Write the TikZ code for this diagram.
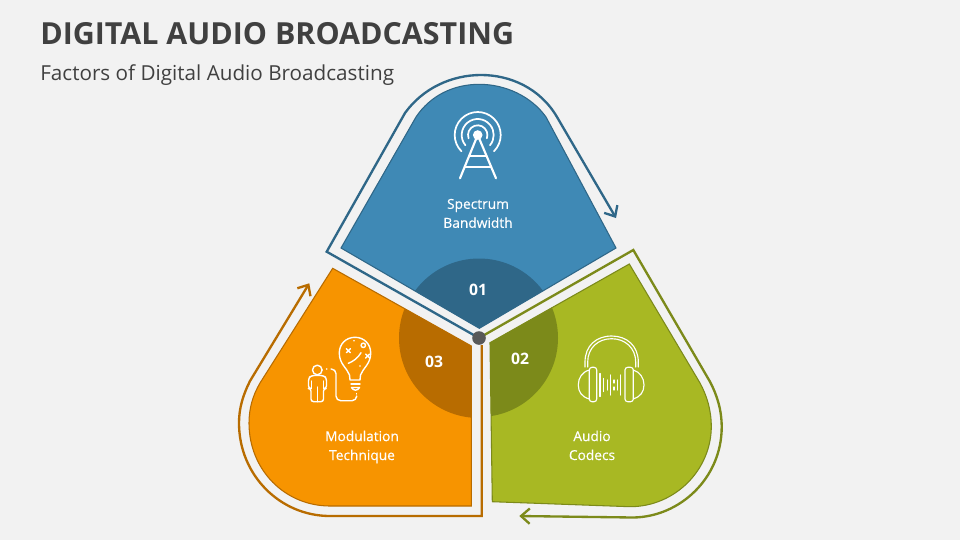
\documentclass[tikz,border=0pt]{standalone}
\usepackage{fontspec}
\setmainfont{Open Sans}
\newfontfamily\labfont[FakeBold=0.35]{Open Sans}
\usetikzlibrary{arrows.meta}
\definecolor{bgc}{HTML}{F2F2F2}
\definecolor{bluef}{HTML}{3F89B5}
\definecolor{blued}{HTML}{2F6788}
\definecolor{orangef}{HTML}{F79400}
\definecolor{oranged}{HTML}{B86C00}
\definecolor{greenf}{HTML}{A8B823}
\definecolor{greend}{HTML}{7C8A1A}
\definecolor{inkc}{HTML}{404040}
\definecolor{dotc}{HTML}{595959}
\tikzset{
  x=0.75pt,y=-0.75pt,
  ring/.style={line width=1.75pt,-{Straight Barb[length=6.5pt,width=11.5pt,line width=1.75pt]},line join=miter},
  edgeb/.style={draw=blued,line width=0.8pt},
  edgeo/.style={draw=oranged,line width=0.8pt},
  edgeg/.style={draw=greend,line width=0.8pt},
  lab/.style={text=white,font=\labfont\fontsize{10.3pt}{14.2pt}\selectfont,align=center,inner sep=0pt},
  num/.style={text=white,font=\fontsize{11.8pt}{14pt}\selectfont\bfseries,inner sep=0pt},
  icon/.style={draw=white,line width=1.3pt,line cap=round,line join=round},
  iconthin/.style={draw=white,line width=0.85pt,line cap=round,line join=round},
  iconmid/.style={draw=white,line width=1.05pt,line cap=round,line join=round}
}
\def\blueshape{(341,248) -- (479.3,328.3) -- (616,248) -- (546,117) .. controls (531,96) and (505,84.3) .. (479.3,84.3) .. controls (453,84.3) and (430,96) .. (416,117) -- cycle}
\def\orangeshape{(332.7,268.3) -- (471.3,346) -- (471.3,506) -- (330,506) .. controls (285,506) and (249,470) .. (249,423) .. controls (249,408) and (253,395) .. (260,383) -- cycle}
\def\greenshape{(629.3,264) -- (490,342.7) -- (492.3,501.7) -- (630,506.7) .. controls (675,506.7) and (711,470) .. (711.3,427) .. controls (711.3,410) and (707,396) .. (700,383) -- cycle}
\begin{document}
\begin{tikzpicture}
\useasboundingbox (0,0) rectangle (960,540);
\fill[bgc] (0,0) rectangle (960,540);

\node[anchor=west,inner sep=0pt,text=inkc,font=\fontsize{22.8pt}{28pt}\selectfont\bfseries] (title) at (40,34) {DIGITAL AUDIO BROADCASTING};
\node[anchor=west,inner sep=0pt,text=inkc,font=\fontsize{15.5pt}{20pt}\selectfont] (subtitle) at (40,75) {Factors of Digital Audio Broadcasting};

% filled sectors
\fill[bluef] \blueshape;
\begin{scope}\clip \blueshape; \fill[blued] (479,338) circle[radius=79.5]; \end{scope}
\draw[edgeb] \blueshape;
\fill[orangef] \orangeshape;
\begin{scope}\clip \orangeshape; \fill[oranged] (479,338) circle[radius=80]; \end{scope}
\draw[edgeo] \orangeshape;
\fill[greenf] \greenshape;
\begin{scope}\clip \greenshape; \fill[greend] (479,338) circle[radius=79]; \end{scope}
\draw[edgeg] \greenshape;

% ring arrows
\coordinate (hub) at (479,338);
\coordinate (bluetip) at (616,218);
\coordinate (orangetip) at (309.3,283.3);
\coordinate (greentip) at (519.3,516);
\draw[ring,draw=blued] (hub) -- (326.7,251.7) -- (405,113) .. controls (423,88) and (452,75) .. (481,75) .. controls (510,75) and (540,88) .. (557,117) -- (bluetip);
\draw[ring,draw=oranged] (481.7,345) -- (481.7,516) -- (330,516) .. controls (280,516) and (239,475) .. (239,423) .. controls (239,408) and (243,395) .. (250,381) -- (orangetip);
\draw[ring,draw=greend] (hub) -- (633.3,250) -- (710,381.7) .. controls (717,395) and (721.7,410) .. (721.7,427) .. controls (721.7,478) and (680,517) .. (633,517.5) -- (greentip);
\node[circle,fill=dotc,minimum size=10.2pt,inner sep=0pt] (hubdot) at (hub) {};

% labels
\node[lab] (l1) at (478,213.4) {Spectrum\\Bandwidth};
\node[lab] (l2) at (592,445.4) {Audio\\Codecs};
\node[lab] (l3) at (362,447) {Modulation\\Technique};
\node[num] (n1) at (478,290) {01};
\node[num] (n2) at (520,359) {02};
\node[num] (n3) at (434,362) {03};

% tower icon
\begin{scope}[shift={(477.7,135)},x=0.75pt,y=0.75pt]
  \fill[white] (0,0) circle[radius=4.8];
  \draw[icon] (225:23) arc[start angle=225,end angle=-45,radius=23];
  \draw[icon] (220:16) arc[start angle=220,end angle=-40,radius=16];
  \draw[icon] (200:9.7) arc[start angle=200,end angle=-20,radius=9.7];
  \draw[icon,line width=1.6pt] (-17.7,-43.3) -- (0,0) -- (18.3,-43.3);
  \draw[icon] (-8.7,-21) -- (9,-21);
  \draw[icon] (-13.2,-32.3) -- (13.6,-32.3);
\end{scope}

% headphones icon
\draw[iconthin] (585,367) -- (585,362) .. controls (585,346) and (596,336) .. (611.7,336) .. controls (627,336) and (638.3,346) .. (638.3,362) -- (638.3,367);
\draw[iconthin] (587.7,367) -- (587.7,362) .. controls (587.7,348) and (598,338.7) .. (611.7,338.7) .. controls (625,338.7) and (635.7,348) .. (635.7,362) -- (635.7,367);
\draw[iconthin,rounded corners=2pt] (589.3,367.3) rectangle (596.7,401.7);
\draw[iconthin,rounded corners=2pt] (625,367.3) rectangle (633.3,401.7);
\draw[iconthin] (589.3,370) .. controls (582,372) and (578.3,378) .. (578.3,385) .. controls (578.3,392) and (582,397) .. (589.3,399);
\draw[iconthin] (633.3,370) .. controls (640,372) and (644,378) .. (644,385) .. controls (644,392) and (640,397) .. (633.3,399);
\draw[iconthin] (600,373.5) -- (600,396.5);
\draw[iconthin] (603.3,378.5) -- (603.3,391.5);
\draw[iconthin] (607.3,380) -- (607.3,390);
\draw[iconthin] (610.7,375) -- (610.7,395);
\draw[iconthin] (614,380) -- (614,383) (614,387) -- (614,390);
\draw[iconthin] (617.3,380) -- (617.3,390);
\draw[iconthin] (620.7,375) -- (620.7,395);

% idea icon
\draw[iconmid] (350,380) -- (349.5,375) .. controls (347,368) and (339.3,364) .. (339.3,353) .. controls (339.3,344) and (346,337.3) .. (355,337.3) .. controls (364,337.3) and (370.7,344) .. (370.7,353) .. controls (370.7,364) and (363,368) .. (360.5,375) -- (360,380) -- cycle;
\draw[iconmid] (351,384) -- (360,384);
\draw[iconmid] (351.5,387.5) .. controls (353,391) and (358,391) .. (359.5,387.5) -- cycle;
\draw[iconmid] (356.7,393.5) -- (356.7,394);
\draw[iconmid] (346.3,348.7) -- (350.3,352.7) (350.3,348.7) -- (346.3,352.7);
\draw[iconmid] (365.7,354) -- (369.7,358) (369.7,354) -- (365.7,358);
\draw[iconmid] (363.3,345.3) circle[radius=2.2];
\draw[iconmid] (348.3,363.3) .. controls (353,361.5) and (358,358) .. (361,352.7);
\fill[white] (354,340.7) circle[radius=0.9] (360,366) circle[radius=0.9];
\draw[iconmid,rounded corners=3.5pt] (356.7,397) -- (356.7,400.7) -- (336,400.7) -- (336,369) -- (331,369);
\fill[white] (326.7,369) circle[radius=0.9];
\draw[iconmid] (317.3,370) circle[radius=4.8];
\draw[iconmid,rounded corners=2pt] (311.5,375.5) -- (323.5,375.5) -- (326.5,378) -- (326.5,388.5) -- (323.5,388.5) -- (323.5,401.7) -- (311,401.7) -- (311,388.5) -- (308.5,388.5) -- (308.5,378) -- cycle;
\draw[iconmid] (317.3,387) -- (317.3,401.7);
\draw[iconmid] (311.3,381) -- (311.3,388.5) (323.3,381) -- (323.3,388.5);
\end{tikzpicture}
\end{document}
